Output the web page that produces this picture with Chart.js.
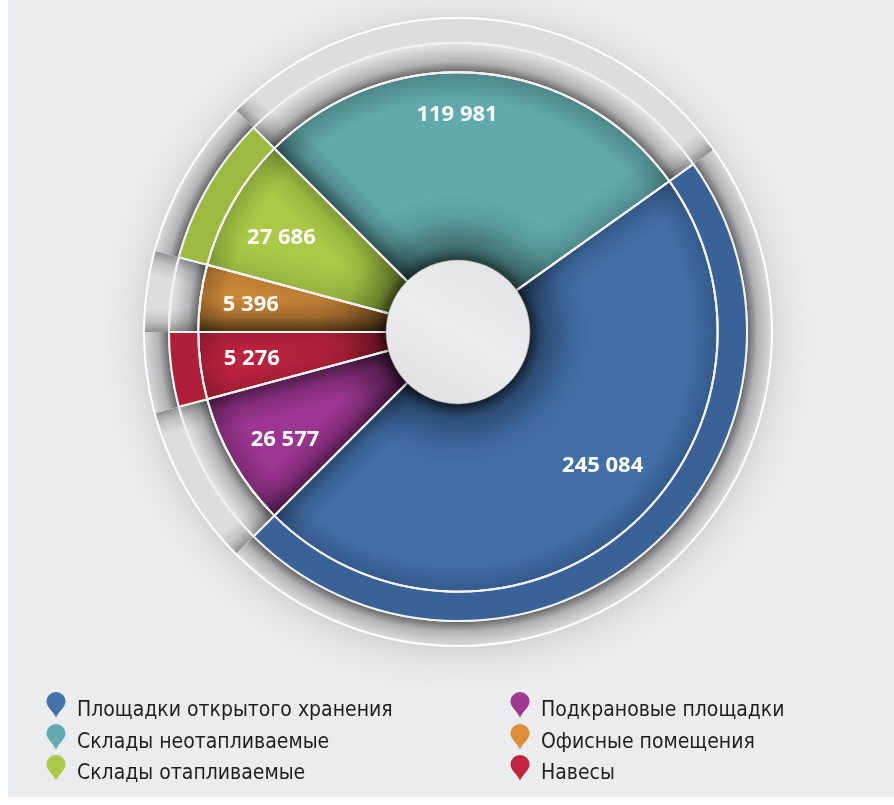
<!DOCTYPE html>
<html lang="ru">
  <head>
    <meta charset="UTF-8" />
    <title>Структура площадей</title>
    <script src="https://cdn.jsdelivr.net/npm/chart.js"></script>
    <style>
      body {
        margin: 0;
        width: 894px;
        height: 805px;
        position: relative;
        overflow: hidden;
        background: #ffffff;
        font-family: "Liberation Sans Narrow", "DejaVu Sans Condensed", sans-serif;
      }
      .panel {
        position: absolute;
        left: 8px;
        top: 0;
        width: 886px;
        height: 797px;
        background: #ebecee;
      }
      #wrap {
        position: absolute;
        left: 0;
        top: 0;
        width: 894px;
        height: 805px;
      }
      .item {
        position: absolute;
        height: 32px;
        width: 380px;
      }
      .item svg {
        position: absolute;
        left: 0;
        top: 0;
      }
      .item span {
        position: absolute;
        left: 31px;
        top: 4px;
        font-size: 21px;
        line-height: 26px;
        color: #1e1e1e;
        white-space: nowrap;
      }
    </style>
  </head>
  <body>
    <div class="panel"></div>
    <div id="wrap"><canvas id="grafico" width="894" height="805"></canvas></div>
    <div id="legenda"></div>

    <script>
      // данные (порядок секторов по часовой стрелке, начиная с синего)
      const categories = [
        "Площадки открытого хранения",
        "Подкрановые площадки",
        "Навесы",
        "Офисные помещения",
        "Склады отапливаемые",
        "Склады неотапливаемые",
      ];
      const areaValues = [245084, 26577, 5276, 5396, 27686, 119981];
      // угловой размер секторов, как они нарисованы на схеме (градусы)
      const arcDegrees = [170.5, 30, 15, 15, 30, 99.5];
      // выступающие сектора (внешнее кольцо)
      const extended = [true, false, true, false, true, false];

      const baseColors = ["#4170a8", "#9d3592", "#c0233f", "#d08a3a", "#abc947", "#62a9ac"];
      const darkColors = ["#35598a", "#7a2a72", "#9c1c33", "#a06a2c", "#8aa53a", "#4c8587"];
      const bandColors = ["#3a6296", "#9d3592", "#b01f3a", "#d08a3a", "#9db93f", "#62a9ac"];
      const legendColors = ["#4571ad", "#a0388f", "#c3243e", "#e08d3a", "#abc945", "#62aab0"];
      // затемнение у краёв сектора: [начало, конец]
      const edgeShade = [[0.22, 0.35], [0.5, 0.5], [0.15, 0.15], [0.65, 0.1], [0.12, 0.25], [0.5, 0.2]];
      // положение подписей: радиус и сдвиг угла
      const labelRadius = [197, 204, 208, 209, 200, 217];
      const labelShift = [-7, -2, 0, 0, -2, -5];
      // легенда: первая колонка, вторая колонка
      const legendCol1 = [0, 5, 4];
      const legendCol2 = [1, 3, 2];

      const fmt = (v) => String(v).replace(/\B(?=(\d{3})+(?!\d))/g, " ");

      const HOLE = 72;
      const RING_GAP = 25;

      const sectorPath = (ctx, x, y, a0, a1, rIn, rOut) => {
        ctx.beginPath();
        ctx.arc(x, y, rOut, a0, a1);
        ctx.arc(x, y, rIn, a1, a0, true);
        ctx.closePath();
      };

      // тень вдоль радиальной границы (внутрь сектора)
      const edgeGradient = (ctx, x, y, angle, inward, width, alpha) => {
        const nx = -Math.sin(angle) * inward;
        const ny = Math.cos(angle) * inward;
        const g = ctx.createLinearGradient(x, y, x + nx * width, y + ny * width);
        g.addColorStop(0, `rgba(0,0,0,${alpha})`);
        g.addColorStop(0.45, `rgba(0,0,0,${alpha * 0.35})`);
        g.addColorStop(1, "rgba(0,0,0,0)");
        return g;
      };

      const ringGradient = (ctx, x, y, r0, r1, alpha) => {
        const g = ctx.createRadialGradient(x, y, r0, x, y, r1);
        g.addColorStop(0, `rgba(0,0,0,${alpha})`);
        g.addColorStop(0.4, `rgba(0,0,0,${alpha * 0.35})`);
        g.addColorStop(1, "rgba(0,0,0,0)");
        return g;
      };

      // фон: серые кольца и тени от секторов
      const ringsPlugin = {
        id: "rings",
        beforeDatasetsDraw(chart) {
          const ctx = chart.ctx;
          const inner = chart.getDatasetMeta(1).data;
          const outer = chart.getDatasetMeta(0).data;
          const { x, y } = inner[0];
          const r1 = inner[0].outerRadius;
          const r2 = outer[0].outerRadius;
          const r3 = r2 + RING_GAP;

          ctx.save();
          ctx.fillStyle = ringGradient(ctx, x, y + 4, r3 - 2, r3 + 40, 0.09);
          ctx.beginPath();
          ctx.arc(x, y + 4, r3 + 40, 0, Math.PI * 2);
          ctx.fill();

          ctx.fillStyle = "#dcdddf";
          ctx.beginPath();
          ctx.arc(x, y, r3, 0, Math.PI * 2);
          ctx.fill();

          // тень от основного круга
          ctx.fillStyle = ringGradient(ctx, x, y, r1, r1 + 26, 0.55);
          ctx.beginPath();
          ctx.arc(x, y, r3, 0, Math.PI * 2);
          ctx.fill();

          outer.forEach((a, i) => {
            ctx.save();
            if (extended[i]) {
              // тень за выступающим сектором
              sectorPath(ctx, x, y, a.startAngle, a.endAngle, r2 - 1, r3 + 1);
              ctx.clip();
              ctx.fillStyle = ringGradient(ctx, x, y, r2, r2 + 26, 0.55);
              ctx.fill();
            } else {
              // тень от боковых краёв соседних выступающих секторов
              sectorPath(ctx, x, y, a.startAngle, a.endAngle, r1, r3);
              ctx.clip();
              if (extended[(i + outer.length - 1) % outer.length]) {
                ctx.fillStyle = edgeGradient(ctx, x, y, a.startAngle, 1, 24, 0.35);
                ctx.fill();
              }
              if (extended[(i + 1) % outer.length]) {
                ctx.fillStyle = edgeGradient(ctx, x, y, a.endAngle, -1, 24, 0.35);
                ctx.fill();
              }
            }
            ctx.restore();
          });
          ctx.restore();

          ctx.save();
          ctx.strokeStyle = "#ffffff";
          ctx.lineWidth = 2;
          [r2, r3].forEach((r) => {
            ctx.beginPath();
            ctx.arc(x, y, r, 0, Math.PI * 2);
            ctx.stroke();
          });
          ctx.restore();
        },
        afterDatasetsDraw(chart) {
          const ctx = chart.ctx;
          const inner = chart.getDatasetMeta(1).data;

          // затемнение краёв секторов
          inner.forEach((a, i) => {
            ctx.save();
            sectorPath(ctx, a.x, a.y, a.startAngle, a.endAngle, a.innerRadius, a.outerRadius);
            ctx.clip();
            ctx.fillStyle = ringGradient(ctx, a.x, a.y, a.innerRadius, a.innerRadius + 45, 0.5);
            ctx.fill();
            ctx.fillStyle = edgeGradient(ctx, a.x, a.y, a.startAngle, 1, 34, edgeShade[i][0]);
            ctx.fill();
            ctx.fillStyle = edgeGradient(ctx, a.x, a.y, a.endAngle, -1, 34, edgeShade[i][1]);
            ctx.fill();
            ctx.restore();
          });

          // белые границы поверх тени
          ctx.save();
          ctx.strokeStyle = "#f1f1f1";
          ctx.lineWidth = 2;
          inner.forEach((a) => {
            sectorPath(ctx, a.x, a.y, a.startAngle, a.endAngle, a.innerRadius, a.outerRadius);
            ctx.stroke();
          });
          ctx.restore();

          // центральный круг
          const { x, y } = inner[0];
          ctx.save();
          ctx.fillStyle = ringGradient(ctx, x, y + 2, HOLE - 3, HOLE + 10, 0.5);
          ctx.beginPath();
          ctx.arc(x, y + 2, HOLE + 10, 0, Math.PI * 2);
          ctx.fill();
          const g = ctx.createLinearGradient(x + 40, y - 70, x - 40, y + 70);
          g.addColorStop(0, "#e2e3e5");
          g.addColorStop(0.5, "#ececee");
          g.addColorStop(1, "#dfe0e2");
          ctx.fillStyle = g;
          ctx.beginPath();
          ctx.arc(x, y, HOLE, 0, Math.PI * 2);
          ctx.fill();
          ctx.strokeStyle = "rgba(150,150,152,0.6)";
          ctx.lineWidth = 1;
          ctx.stroke();
          ctx.restore();

          // подписи значений
          ctx.save();
          ctx.fillStyle = "#ffffff";
          ctx.font = "700 22px 'Open Sans', sans-serif";
          ctx.textAlign = "center";
          ctx.textBaseline = "middle";
          inner.forEach((a, i) => {
            const mid = (a.startAngle + a.endAngle) / 2 + (labelShift[i] * Math.PI) / 180;
            const r = labelRadius[i];
            ctx.fillText(fmt(areaValues[i]), a.x + Math.cos(mid) * r, a.y + Math.sin(mid) * r);
          });
          ctx.restore();
        },
      };

      const innerFill = (c) => {
        const chart = c.chart;
        const area = chart.chartArea;
        const i = c.dataIndex;
        if (!area) return baseColors[i];
        const cx = (area.left + area.right) / 2;
        const cy = (area.top + area.bottom) / 2;
        const g = chart.ctx.createRadialGradient(cx, cy, HOLE, cx, cy, 260);
        g.addColorStop(0, darkColors[i]);
        g.addColorStop(0.35, baseColors[i]);
        g.addColorStop(0.85, baseColors[i]);
        g.addColorStop(1, darkColors[i]);
        return g;
      };

      const ctxGrafico = document.getElementById("grafico").getContext("2d");
      new Chart(ctxGrafico, {
        type: "doughnut",
        data: {
          labels: categories,
          datasets: [
            {
              label: "кольцо",
              data: arcDegrees,
              backgroundColor: bandColors.map((c, i) => (extended[i] ? c : "rgba(0,0,0,0)")),
              borderColor: "#f1f1f1",
              borderWidth: 2,
              weight: 29,
            },
            {
              label: "площадь",
              data: arcDegrees,
              backgroundColor: innerFill,
              borderColor: "#f1f1f1",
              borderWidth: 2,
              weight: 188,
            },
          ],
        },
        plugins: [ringsPlugin],
        options: {
          responsive: false,
          animation: false,
          events: [],
          rotation: 54.5,
          cutout: HOLE,
          radius: 289,
          layout: {
            padding: { left: 158, top: 32, right: 136, bottom: 173 },
          },
          plugins: {
            legend: { display: false },
            tooltip: { enabled: false },
          },
        },
      });

      // легенда
      const drop = (color) =>
        `<svg width="20" height="26" viewBox="0 0 20 26"><path d="M10 25.5 C7 19 0.5 15 0.5 9.5 A9.5 9.5 0 0 1 19.5 9.5 C19.5 15 13 19 10 25.5 Z" fill="${color}"/></svg>`;
      const legenda = document.getElementById("legenda");
      const rowsTop = [692, 724, 755];
      [legendCol1, legendCol2].forEach((col, c) => {
        col.forEach((idx, r) => {
          const el = document.createElement("div");
          el.className = "item";
          el.style.left = (c === 0 ? 46 : 510) + "px";
          el.style.top = rowsTop[r] + "px";
          el.innerHTML = drop(legendColors[idx]) + `<span>${categories[idx]}</span>`;
          legenda.appendChild(el);
        });
      });
    </script>
  </body>
</html>
